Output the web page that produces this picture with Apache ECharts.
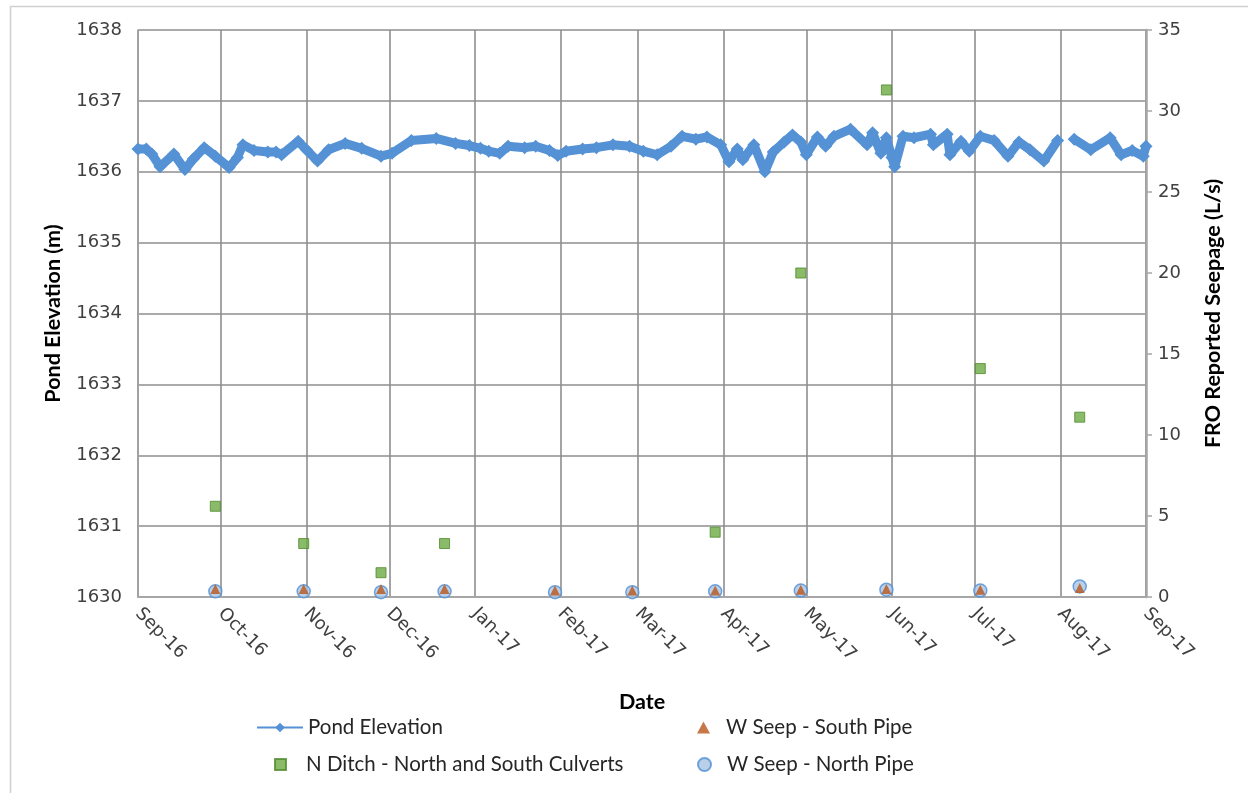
<!DOCTYPE html>
<html>
<head>
<meta charset="utf-8">
<script src="https://cdn.jsdelivr.net/npm/echarts@6/dist/echarts.min.js"></script>
<style>
html,body{margin:0;padding:0;background:#fff;}
#c{width:1248px;height:793px;}
</style>
</head>
<body>
<div id="c"></div>
<script>
// ---- data ----
const monthLabels = ['Sep-16','Oct-16','Nov-16','Dec-16','Jan-17','Feb-17','Mar-17','Apr-17','May-17','Jun-17','Jul-17','Aug-17','Sep-17'];

const pondDates = ['2016-09-01','2016-09-04','2016-09-06','2016-09-09','2016-09-14','2016-09-18','2016-09-21','2016-09-25','2016-09-29',
'2016-10-04','2016-10-07','2016-10-09','2016-10-13','2016-10-18','2016-10-21','2016-10-23','2016-10-29',
'2016-11-01','2016-11-05','2016-11-09','2016-11-15','2016-11-21','2016-11-28',
'2016-12-02','2016-12-09','2016-12-18','2016-12-25','2016-12-30',
'2017-01-03','2017-01-06','2017-01-10','2017-01-13','2017-01-19','2017-01-23','2017-01-28','2017-01-31',
'2017-02-03','2017-02-09','2017-02-14','2017-02-20','2017-02-26',
'2017-03-03','2017-03-08','2017-03-13','2017-03-17','2017-03-22','2017-03-26','2017-03-31',
'2017-04-03','2017-04-06','2017-04-08','2017-04-12','2017-04-16','2017-04-19','2017-04-23','2017-04-26','2017-04-29',
'2017-05-01','2017-05-05','2017-05-08','2017-05-11','2017-05-17','2017-05-23','2017-05-25','2017-05-28','2017-05-30',
'2017-06-01','2017-06-02','2017-06-05','2017-06-09','2017-06-15','2017-06-16','2017-06-21','2017-06-22','2017-06-26','2017-06-29',
'2017-07-03','2017-07-08','2017-07-13','2017-07-17','2017-07-21','2017-07-26','2017-07-31',
'2017-08-03','2017-08-06','2017-08-12','2017-08-19','2017-08-23','2017-08-27','2017-08-31','2017-09-01'];
const pondValues = [1636.32,1636.32,1636.25,1636.07,1636.25,1636.03,1636.18,1636.34,1636.22,
1636.06,1636.20,1636.38,1636.30,1636.28,1636.28,1636.24,1636.43,
1636.31,1636.15,1636.31,1636.40,1636.33,1636.22,
1636.26,1636.44,1636.47,1636.40,1636.37,
1636.33,1636.29,1636.26,1636.36,1636.34,1636.36,1636.30,1636.23,
1636.29,1636.32,1636.34,1636.38,1636.36,
1636.29,1636.24,1636.36,1636.50,1636.46,1636.49,1636.38,
1636.14,1636.32,1636.17,1636.38,1636.00,1636.28,1636.42,1636.52,1636.42,
1636.24,1636.49,1636.36,1636.50,1636.60,1636.38,1636.55,1636.26,1636.48,
1636.20,1636.07,1636.50,1636.48,1636.53,1636.38,1636.53,1636.24,1636.43,1636.29,
1636.50,1636.44,1636.22,1636.42,1636.31,1636.15,1636.44,
null,1636.46,1636.31,1636.48,1636.24,1636.30,1636.22,1636.36];

const sampleDates = ['2016-09-29','2016-10-31','2016-11-28','2016-12-21','2017-01-30','2017-02-27','2017-03-29','2017-04-29','2017-05-30','2017-07-03','2017-08-08'];
const nDitchDates = ['2016-09-29','2016-10-31','2016-11-28','2016-12-21','2017-03-29','2017-04-29','2017-05-30','2017-07-03','2017-08-08'];
const nDitchValues = [5.6,3.3,1.5,3.3,4.0,20.0,31.3,14.1,11.1];
const southPipeValues = [0.5,0.5,0.5,0.5,0.4,0.4,0.4,0.45,0.5,0.45,0.55];
const northPipeValues = [0.35,0.35,0.3,0.35,0.3,0.3,0.35,0.4,0.45,0.4,0.65];

// ---- chart ----
const chart = echarts.init(document.getElementById('c'));
const pair = (d, v) => d.map((x, i) => [x, v[i] == null ? '-' : v[i]]);
const tickFont = {fontFamily:'DejaVu Sans', fontSize:18, color:'#404040'};
const legendText = {fontFamily:'Lato', fontSize:20.5, color:'#262626'};
const legendTextPad = (p) => Object.assign({}, legendText, {padding:[0,0,0,p]});
const titleFont = {fontFamily:'Lato', fontWeight:'bold', fontSize:21.5, color:'#000'};
const gridColor = '#8e8e8e';

chart.setOption({
  animation:false,
  backgroundColor:'#ffffff',
  graphic:[{type:'rect', left:8, top:4, shape:{width:1300, height:820}, style:{fill:'none', stroke:'#d0d0d0', lineWidth:1.5}, silent:true}],
  grid:{left:138, right:102, top:30, bottom:196, containLabel:false},
  xAxis:{
    type:'time',
    min:'2016-09-01', max:'2017-09-01',
    minInterval:28*86400000, maxInterval:31*86400000,
    name:'Date', nameLocation:'middle', nameGap:94,
    nameTextStyle:titleFont,
    axisLine:{show:true, lineStyle:{color:'#a6a6a6', width:2}},
    axisTick:{show:false},
    splitLine:{show:true, lineStyle:{color:gridColor, width:1.6}},
    axisLabel:Object.assign({}, tickFont, {
      rotate:-45, margin:14, showMinLabel:true, showMaxLabel:true, hideOverlap:false,
      formatter:function(v){const d=new Date(v);const idx=(d.getFullYear()-2016)*12+d.getMonth()-8;return monthLabels[idx]||'';}
    })
  },
  yAxis:[{
    type:'value', min:1630, max:1638, interval:1,
    name:'Pond Elevation (m)', nameLocation:'middle', nameGap:74, nameRotate:90,
    nameTextStyle:titleFont,
    axisLine:{show:true, lineStyle:{color:'#a6a6a6', width:1.5}},
    axisTick:{show:false},
    splitLine:{show:true, lineStyle:{color:gridColor, width:1.6}},
    axisLabel:Object.assign({}, tickFont, {margin:16, formatter:function(v){return String(v);}})
  },{
    type:'value', min:0, max:35, interval:5, position:'right',
    name:'FRO Reported Seepage (L/s)', nameLocation:'middle', nameGap:56, nameRotate:90,
    nameTextStyle:titleFont,
    axisLine:{show:true, lineStyle:{color:'#a6a6a6', width:2.5}},
    axisTick:{show:true, length:6, lineStyle:{color:'#a6a6a6', width:1.5}},
    splitLine:{show:false},
    axisLabel:Object.assign({}, tickFont, {margin:12})
  }],
  legend:[
    {data:['Pond Elevation'], left:256, top:717, padding:0, itemWidth:46, itemHeight:12, textStyle:legendText},
    {data:[{name:'W Seep - South Pipe', icon:'triangle'}], left:697, top:717, padding:0, itemWidth:13, itemHeight:12, textStyle:legendTextPad(11)},
    {data:[{name:'N Ditch - North and South Culverts', icon:'rect'}], left:274, top:754, padding:0, itemWidth:11, itemHeight:11, textStyle:legendTextPad(15)},
    {data:[{name:'W Seep - North Pipe', icon:'circle'}], left:697, top:754, padding:0, itemWidth:13, itemHeight:13, textStyle:legendTextPad(11)}
  ],
  series:[
    {
      name:'Pond Elevation', type:'line', yAxisIndex:0,
      data:pair(pondDates, pondValues),
      connectNulls:false,
      symbol:'diamond', symbolSize:13, showAllSymbol:true,
      lineStyle:{color:'#5592d5', width:9},
      itemStyle:{color:'#5592d5'},
      z:3
    },
    {
      name:'N Ditch - North and South Culverts', type:'scatter', yAxisIndex:1,
      data:pair(nDitchDates, nDitchValues),
      symbol:'rect', symbolSize:10,
      itemStyle:{color:'#6caa43', borderColor:'#4f8a2c', borderWidth:1},
      z:4
    },
    {
      name:'W Seep - North Pipe', type:'scatter', yAxisIndex:1,
      data:pair(sampleDates, northPipeValues),
      symbol:'circle', symbolSize:13,
      itemStyle:{color:'#a9c4e3', borderColor:'#4f8fd6', borderWidth:1.5},
      z:4
    },
    {
      name:'W Seep - South Pipe', type:'scatter', yAxisIndex:1,
      data:pair(sampleDates, southPipeValues),
      symbol:'triangle', symbolSize:10,
      itemStyle:{color:'#b9561c'},
      z:5
    }
  ]
});
</script>
</body>
</html>
